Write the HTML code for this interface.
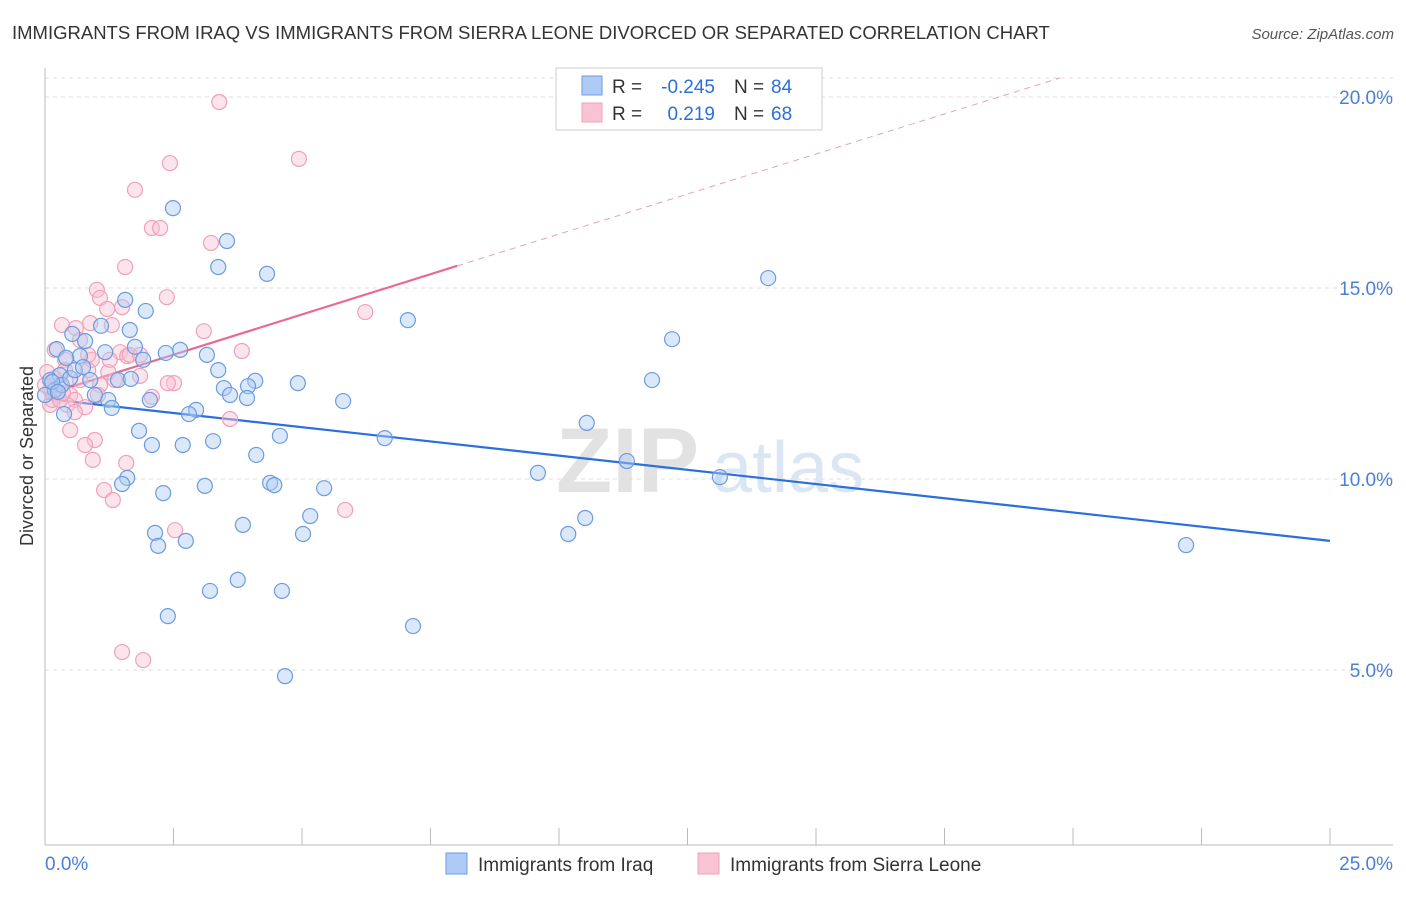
<!DOCTYPE html>
<html><head><meta charset="utf-8"><style>
body{margin:0;background:#fff;font-family:"Liberation Sans",sans-serif;}
svg text{font-family:"Liberation Sans",sans-serif;}
</style></head><body>
<svg id="chart" width="1406" height="892" xmlns="http://www.w3.org/2000/svg">
<text x="12" y="39" font-size="18.5" fill="#333">IMMIGRANTS FROM IRAQ VS IMMIGRANTS FROM SIERRA LEONE DIVORCED OR SEPARATED CORRELATION CHART</text>
<text x="1394" y="39" font-size="15" fill="#555" font-style="italic" text-anchor="end">Source: ZipAtlas.com</text>
<text x="556" y="492" font-size="92" fill="#e2e2e2" font-weight="bold">ZIP</text>
<text x="712" y="492" font-size="72" fill="#dbe6f5">atlas</text>
<g id="grid"></g><g id="axes"></g><g id="lines"></g><g id="pts"></g>
<text transform="translate(33,456) rotate(-90)" font-size="18" fill="#333" text-anchor="middle">Divorced or Separated</text>
<g>
<rect x="556" y="68" width="266" height="62" fill="#fff" stroke="#ccc"/>
<rect x="582" y="76" width="20" height="19" fill="#aecbf5" stroke="#6c9be0"/>
<rect x="582" y="103" width="20" height="19" fill="#f8c4d4" stroke="#f0a0b8"/>
<text x="612" y="93" font-size="19" fill="#333">R =</text>
<text x="715" y="93" font-size="19" fill="#2a6fdb" text-anchor="end">-0.245</text>
<text x="734" y="93" font-size="19" fill="#333">N =</text>
<text x="771" y="93" font-size="19" fill="#2a6fdb">84</text>
<text x="612" y="120" font-size="19" fill="#333">R =</text>
<text x="715" y="120" font-size="19" fill="#2a6fdb" text-anchor="end">0.219</text>
<text x="734" y="120" font-size="19" fill="#333">N =</text>
<text x="771" y="120" font-size="19" fill="#2a6fdb">68</text>
</g>
<g>
<rect x="446" y="853" width="21" height="21" fill="#aecbf5" stroke="#6c9be0"/>
<text x="478" y="871" font-size="19" fill="#333">Immigrants from Iraq</text>
<rect x="698" y="853" width="21" height="21" fill="#f8c4d4" stroke="#f0a0b8"/>
<text x="730" y="871" font-size="19" fill="#333">Immigrants from Sierra Leone</text>
</g>
</svg>
<script>
const yTicks=[5,10,15,20];
const yTickLabels=["5.0%","10.0%","15.0%","20.0%"];
const xTicks=[0,2.5,5,7.5,10,12.5,15,17.5,20,22.5,25];
const iraqPx=[[173,208],[227,241],[218,267],[267,274],[768,278],[125,300],[146,311],[408,320],[101,326],[130,330],[672,339],[57,349],[85,341],[72,334],[135,347],[105,352],[180,350],[166,353],[207,355],[143,360],[80,356],[218,370],[60,375],[118,380],[131,379],[255,381],[298,383],[224,388],[652,380],[248,386],[230,395],[247,398],[343,401],[150,400],[108,400],[196,410],[189,414],[64,414],[112,408],[587,423],[139,431],[280,436],[385,438],[152,445],[183,445],[213,441],[256,455],[627,461],[538,473],[720,477],[127,478],[122,484],[205,486],[270,483],[274,485],[324,488],[163,493],[310,516],[585,518],[243,525],[155,533],[568,534],[303,534],[186,541],[158,546],[1186,545],[238,580],[210,591],[282,591],[168,616],[413,626],[285,676],[50,380],[55,390],[62,385],[45,395],[70,378],[90,380],[95,395],[75,370],[66,358],[52,382],[58,392],[83,367]];
const sierraPx=[[219,102],[299,159],[170,163],[135,190],[152,228],[160,228],[211,243],[125,267],[97,290],[167,297],[100,298],[122,307],[107,309],[365,312],[62,325],[90,323],[112,325],[76,328],[204,331],[80,340],[120,352],[242,351],[127,356],[65,360],[92,360],[88,370],[108,372],[140,376],[174,383],[168,383],[55,378],[60,385],[70,395],[75,400],[85,407],[50,405],[152,397],[230,419],[70,430],[95,440],[85,445],[93,460],[126,463],[104,490],[113,500],[345,510],[175,530],[122,652],[143,660],[50,390],[58,395],[65,370],[100,385],[45,385],[52,400],[67,405],[80,380],[110,360],[130,355],[55,350],[98,395],[115,380],[60,400],[75,412],[140,355],[88,355],[47,372],[63,393]];
const iraqX=iraqPx.map(p=>+((p[0]-45)/1285*25).toFixed(2));
const iraqY=iraqPx.map(p=>+((861-p[1])/38.2).toFixed(2));
const sierraX=sierraPx.map(p=>+((p[0]-45)/1285*25).toFixed(2));
const sierraY=sierraPx.map(p=>+((861-p[1])/38.2).toFixed(2));
const iraqFit=[[0,12.1],[25,8.38]];
const sierraFit=[[0,12.2],[8.02,15.58],[19.75,20.5]];
const sx=v=>45+v/25*1285, sy=v=>861-v*38.2;
const NS="http://www.w3.org/2000/svg";
function mk(tag,attrs,parent){const e=document.createElementNS(NS,tag);for(const k in attrs)e.setAttribute(k,attrs[k]);document.getElementById(parent).appendChild(e);return e;}
yTicks.forEach((t,i)=>{
 const g=mk('line',{x1:45,x2:1393,y1:sy(t),y2:sy(t),stroke:'#ddd','stroke-dasharray':'4,4'},'grid');
 
 
 const l=mk('text',{x:1393,y:sy(t)+7,'font-size':19,fill:'#4a7fd4','text-anchor':'end'},'axes');
 l.textContent=yTickLabels[i];
 
 
});
const tg=mk('line',{x1:45,x2:1393,y1:sy(20)-19,y2:sy(20)-19,stroke:'#ddd','stroke-dasharray':'4,4'},'grid');


const ya=mk('line',{x1:45,x2:45,y1:68,y2:845,stroke:'#bbb'},'axes');


const xa=mk('line',{x1:45,x2:1393,y1:845,y2:845,stroke:'#bbb'},'axes');


xTicks.forEach(t=>{const k=mk('line',{x1:sx(t),x2:sx(t),y1:828,y2:845,stroke:'#bbb'},'axes');
 
 });
const x0=mk('text',{x:45,y:870,'font-size':19,fill:'#4a7fd4'},'axes');x0.textContent='0.0%';


const x1=mk('text',{x:1393,y:870,'font-size':19,fill:'#4a7fd4','text-anchor':'end'},'axes');x1.textContent='25.0%';


function dot(x,y,fill,stroke,name){const c=mk('circle',{cx:sx(x),cy:sy(y),r:7.5,fill:fill,'fill-opacity':0.45,stroke:stroke,'stroke-width':1.2},'pts');
 
 }
sierraX.forEach((x,i)=>dot(x,sierraY[i],'#f8c4d4','#f0a0b8','sierra-leone-point'));
iraqX.forEach((x,i)=>dot(x,iraqY[i],'#aecbf5','#6c9be0','iraq-point'));
const bl=mk('line',{x1:sx(iraqFit[0][0]),y1:sy(iraqFit[0][1]),x2:sx(iraqFit[1][0]),y2:sy(iraqFit[1][1]),stroke:'#2a6fdb','stroke-width':2.2},'lines');


const pl=mk('line',{x1:sx(sierraFit[0][0]),y1:sy(sierraFit[0][1]),x2:sx(sierraFit[1][0]),y2:sy(sierraFit[1][1]),stroke:'#e86a93','stroke-width':2.2},'lines');


const pd=mk('line',{x1:sx(sierraFit[1][0]),y1:sy(sierraFit[1][1]),x2:sx(sierraFit[2][0]),y2:sy(sierraFit[2][1]),stroke:'#e8a0b8','stroke-width':1,'stroke-dasharray':'6,5'},'lines');


</script>
</body></html>
